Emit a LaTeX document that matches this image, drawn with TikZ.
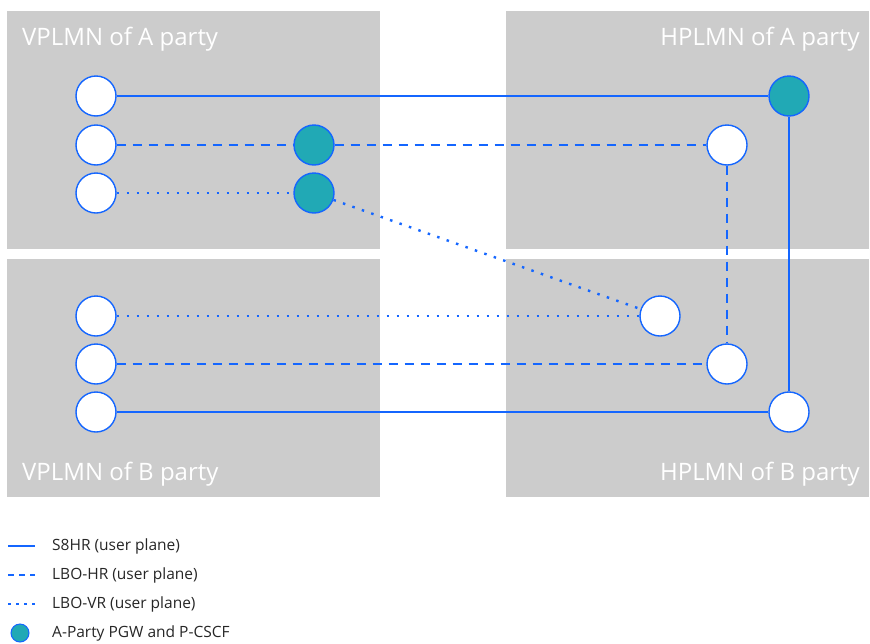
\documentclass[tikz,border=0pt]{standalone}
\usepackage{fontspec}
\setmainfont{Open Sans}
\usepackage{xcolor}

\definecolor{netgray}{RGB}{204,204,204}
\definecolor{planeblue}{RGB}{20,102,255}
\definecolor{pgwteal}{RGB}{33,169,181}

\tikzset{
  gw/.style={circle,draw=planeblue,line width=1.4pt,fill=white,minimum size=40pt,inner sep=0pt},
  pgw/.style={gw,fill=pgwteal},
  s8hr/.style={draw=planeblue,line width=1.6pt},
  lbohr/.style={draw=planeblue,line width=1.6pt,dash pattern=on 9pt off 7pt},
  lbovr/.style={draw=planeblue,line width=2.4pt,dash pattern=on 2.5pt off 7.5pt},
  netlabel/.style={text=white,font=\fontsize{24}{28}\selectfont,inner sep=0pt},
  legtext/.style={anchor=west,font=\fontsize{15.5}{18}\selectfont,text=black!85,inner sep=0pt}
}

\begin{document}
\begin{tikzpicture}[x=1pt,y=-1pt]
\useasboundingbox (0,0) rectangle (870,643);

% the four networks
\fill[netgray] (7,11) rectangle (380,249);
\fill[netgray] (506,11) rectangle (869,249);
\fill[netgray] (7,259) rectangle (380,497);
\fill[netgray] (506,259) rectangle (869,497);
\node[netlabel,anchor=west] (vpa) at (22,39) {VPLMN of A party};
\node[netlabel,anchor=east] (hpa) at (860,39) {HPLMN of A party};
\node[netlabel,anchor=west] (vpb) at (22,474) {VPLMN of B party};
\node[netlabel,anchor=east] (hpb) at (860,474) {HPLMN of B party};

% A party side
\node[gw] (va1) at (96,96) {};
\node[gw] (va2) at (96,145) {};
\node[gw] (va3) at (96,193) {};
\node[pgw] (vpg1) at (314,145) {};
\node[pgw] (vpg2) at (314,193) {};
\node[pgw] (hpg) at (789,96) {};
\node[gw] (ha2) at (727,145) {};

% B party side
\node[gw] (vb1) at (96,316) {};
\node[gw] (vb2) at (96,364) {};
\node[gw] (vb3) at (96,412) {};
\node[gw] (hb1) at (660,316) {};
\node[gw] (hb2) at (727,364) {};
\node[gw] (hb3) at (789,412) {};

% S8HR
\draw[s8hr] (va1) -- (hpg);
\draw[s8hr] (hpg) -- (hb3);
\draw[s8hr] (vb3) -- (hb3);
% LBO-HR
\draw[lbohr] (va2) -- (vpg1);
\draw[lbohr] (vpg1) -- (ha2);
\draw[lbohr] (ha2) -- (hb2);
\draw[lbohr] (vb2) -- (hb2);
% LBO-VR
\draw[lbovr] (va3) -- (vpg2);
\draw[lbovr] (vpg2) -- (hb1);
\draw[lbovr] (vb1) -- (hb1);

% legend
\coordinate (l1a) at (8,546);  \coordinate (l1b) at (35,546);
\coordinate (l2a) at (8,575);  \coordinate (l2b) at (35,575);
\coordinate (l3a) at (8,604);  \coordinate (l3b) at (35,604);
\draw[s8hr] (l1a) -- (l1b);
\draw[lbohr,dash pattern=on 6pt off 5pt] (l2a) -- (l2b);
\draw[lbovr,dash pattern=on 2.5pt off 5.5pt] (l3a) -- (l3b);
\node[pgw,minimum size=18pt,line width=1pt] (legpgw) at (20,633) {};
\node[legtext] (t1) at (52,546) {S8HR (user plane)};
\node[legtext] (t2) at (52,575) {LBO-HR (user plane)};
\node[legtext] (t3) at (52,604) {LBO-VR (user plane)};
\node[legtext] (t4) at (52,633) {A-Party PGW and P-CSCF};
\end{tikzpicture}
\end{document}
